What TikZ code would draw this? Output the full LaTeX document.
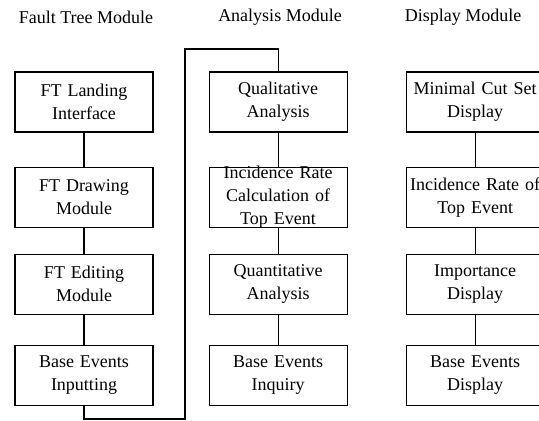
\documentclass[tikz,border=0pt]{standalone}
\usepackage{fontspec}
\setmainfont{Liberation Serif}
\usetikzlibrary{positioning,calc}

\begin{document}
\begin{tikzpicture}[x=1pt, y=-1pt,
    box/.style={draw, line width=1.1pt, text width=134pt, minimum height=60pt, align=center, inner sep=2pt, font=\fontsize{18}{23}\selectfont},
    title/.style={font=\fontsize{18}{23}\selectfont},
    link/.style={line width=1.1pt}
]
  \useasboundingbox (0,0) rectangle (539,421);

  % Column titles
  \node[title] (ft_title) at (86,17) {Fault Tree Module};
  \node[title] (ana_title) at (280,17) {Analysis Module};
  \node[title] (dis_title) at (463,17) {Display Module};

  % Fault tree column
  \node[box] (ft_land) at (84,102) {FT Landing\\Interface};
  \node[box, below=34pt of ft_land] (ft_draw) {FT Drawing\\Module};
  \node[box, below=26pt of ft_draw] (ft_edit) {FT Editing\\Module};
  \node[box, below=30pt of ft_edit] (ft_input) {Base Events\\Inputting};

  % Analysis column
  \node[box, right=55pt of ft_land] (qual_ana) {Qualitative\\Analysis};
  \node[box, inner ysep=-4pt, below=34pt of qual_ana] (rate_calc) {Incidence Rate\\Calculation of\\Top Event};
  \node[box, below=26pt of rate_calc] (quan_ana) {Quantitative\\Analysis};
  \node[box, below=30pt of quan_ana] (base_inq) {Base Events\\Inquiry};

  % Display column
  \node[box, right=58pt of qual_ana] (cut_dis) {Minimal Cut Set\\Display};
  \node[box, below=34pt of cut_dis] (rate_dis) {Incidence Rate of\\Top Event};
  \node[box, below=26pt of rate_dis] (imp_dis) {Importance\\Display};
  \node[box, below=30pt of imp_dis] (base_dis) {Base Events\\Display};

  % Links inside the columns
  \draw[link] (ft_land) -- (ft_draw);
  \draw[link] (ft_draw) -- (ft_edit);
  \draw[link] (ft_edit) -- (ft_input);
  \draw[link] (qual_ana) -- (rate_calc);
  \draw[link] (rate_calc) -- (quan_ana);
  \draw[link] (quan_ana) -- (base_inq);
  \draw[link] (cut_dis) -- (rate_dis);
  \draw[link] (rate_dis) -- (imp_dis);
  \draw[link] (imp_dis) -- (base_dis);

  % Loop from fault tree to analysis
  \coordinate (loop_low) at (185,419);
  \coordinate (loop_high) at (185,49);
  \draw[link] (ft_input.south) |- (loop_low) -- (loop_high) -| (qual_ana.north);

\end{tikzpicture}
\end{document}
